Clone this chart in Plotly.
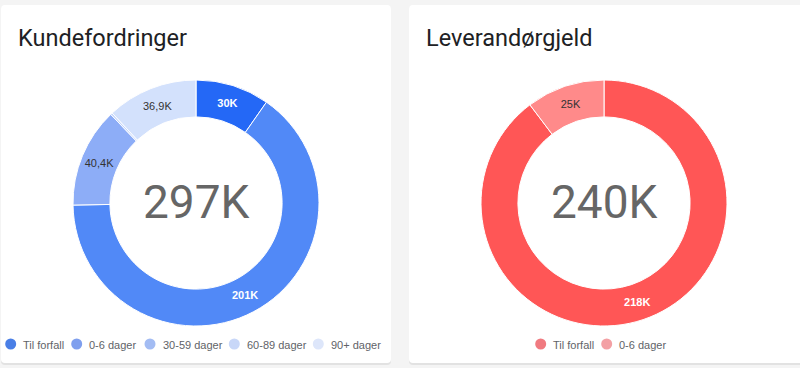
import plotly.graph_objects as go

# ---------------- data ----------------
kunde_title = "Kundefordringer"
kunde_labels = ["Til forfall", "0-6 dager", "30-59 dager", "60-89 dager", "90+ dager"]
kunde_values = [30, 201, 40.4, 0.8, 36.9]          # thousands
kunde_total_text = "297K"

lev_title = "Leverandørgjeld"
lev_labels = ["Til forfall", "0-6 dager"]
lev_values = [218, 25]                              # thousands
lev_total_text = "240K"

# ---------------- styles ----------------
W, H = 800, 368
kunde_colors = ["#2468f6", "#5189f7", "#8dadf7", "#c3d5fb", "#d3e1fc"]
kunde_legend_colors = ["#4a7fe6", "#7f9fee", "#a3bcf3", "#c8d7f8", "#dde6fa"]
kunde_text_colors = ["white", "white", "#333333", "#333333", "#333333"]
kunde_text_weights = ["bold", "bold", "normal", "normal", "normal"]

lev_colors = ["#ff5656", "#ff8a8a"]
lev_legend_colors = ["#f07a80", "#f3a0a4"]
lev_text_colors = ["white", "#333333"]
lev_text_weights = ["bold", "normal"]


def fx(px):
    return px / W


def fy(py):
    return 1 - py / H


def fmt(v):
    if v < 5:
        return ""
    s = f"{v:.1f}".rstrip("0").rstrip(".")
    return s.replace(".", ",") + "K"


def rounded_rect(x0, y0, x1, y1, r=4):
    rx, ry = r / W, r / H
    X0, X1 = fx(x0), fx(x1)
    Y0, Y1 = fy(y0), fy(y1)  # Y0 top, Y1 bottom
    return (f"M {X0+rx},{Y0} L {X1-rx},{Y0} Q {X1},{Y0} {X1},{Y0-ry} "
            f"L {X1},{Y1+ry} Q {X1},{Y1} {X1-rx},{Y1} L {X0+rx},{Y1} "
            f"Q {X0},{Y1} {X0},{Y1+ry} L {X0},{Y0-ry} Q {X0},{Y0} {X0+rx},{Y0} Z")


fig = go.Figure()

fig.add_trace(go.Pie(
    labels=kunde_labels, values=kunde_values,
    text=[fmt(v) for v in kunde_values], texttemplate="%{text}",
    textposition="inside", insidetextorientation="horizontal",
    textfont=dict(family="Liberation Sans, Arial", size=11,
                  color=kunde_text_colors, weight=kunde_text_weights),
    hole=0.70, sort=False, direction="clockwise", rotation=0,
    marker=dict(colors=kunde_colors, line=dict(color="white", width=1)),
    domain=dict(x=[fx(73), fx(319)], y=[fy(326), fy(80)]),
    showlegend=False, hoverinfo="label+value",
))

fig.add_trace(go.Pie(
    labels=lev_labels, values=lev_values,
    text=[fmt(v) for v in lev_values], texttemplate="%{text}",
    textposition="inside", insidetextorientation="horizontal",
    textfont=dict(family="Liberation Sans, Arial", size=11,
                  color=lev_text_colors, weight=lev_text_weights),
    hole=0.70, sort=False, direction="clockwise", rotation=0,
    marker=dict(colors=lev_colors, line=dict(color="white", width=1)),
    domain=dict(x=[fx(481), fx(727)], y=[fy(326), fy(80)]),
    showlegend=False, hoverinfo="label+value",
))

shapes = []
annotations = []

# cards
for (x0, x1) in [(1, 391), (409, 805)]:
    shapes.append(dict(type="path", xref="paper", yref="paper", layer="below",
                       path=rounded_rect(x0, 6, x1, 365), fillcolor="#e2e2e2",
                       line=dict(width=0)))
    shapes.append(dict(type="path", xref="paper", yref="paper", layer="below",
                       path=rounded_rect(x0, 5, x1, 363), fillcolor="white",
                       line=dict(width=0)))

# titles
for text, x in [(kunde_title, 16), (lev_title, 424)]:
    annotations.append(dict(text=text, x=fx(x), y=fy(38), xref="paper", yref="paper",
                            xanchor="left", yanchor="middle", showarrow=False,
                            font=dict(family="Roboto", size=23.5, color="#202124")))

# center totals
for text, x in [(kunde_total_text, 196.5), (lev_total_text, 604.5)]:
    annotations.append(dict(text=text, x=fx(x), y=fy(202), xref="paper", yref="paper",
                            xanchor="center", yanchor="middle", showarrow=False,
                            font=dict(family="Roboto", size=46, color="#666666")))

# manual legends (circle centres in px)
legend_y = 344
kunde_leg_x = [10.7, 76.7, 150, 234.3, 318.3]
lev_leg_x = [540.7, 606.7]
for labels, colors, xs in [(kunde_labels, kunde_legend_colors, kunde_leg_x),
                           (lev_labels, lev_legend_colors, lev_leg_x)]:
    for lab, col, cx in zip(labels, colors, xs):
        shapes.append(dict(type="circle", xref="paper", yref="paper",
                           x0=fx(cx - 5.5), x1=fx(cx + 5.5),
                           y0=fy(legend_y + 5.5), y1=fy(legend_y - 5.5),
                           fillcolor=col, line=dict(width=0)))
        annotations.append(dict(text=lab, x=fx(cx + 10.5), y=fy(legend_y + 0.5),
                                xref="paper", yref="paper", xanchor="left",
                                yanchor="middle", showarrow=False,
                                font=dict(family="Liberation Sans, Arial", size=11,
                                          color="#5f6368")))

fig.update_layout(
    width=W, height=H, margin=dict(l=0, r=0, t=0, b=0),
    paper_bgcolor="#f4f4f4", plot_bgcolor="#f4f4f4",
    shapes=shapes, annotations=annotations, showlegend=False,
)

fig.write_html("out.html", config={"displayModeBar": False},
               post_script="document.body.style.margin='0';document.body.style.overflow='hidden';")
